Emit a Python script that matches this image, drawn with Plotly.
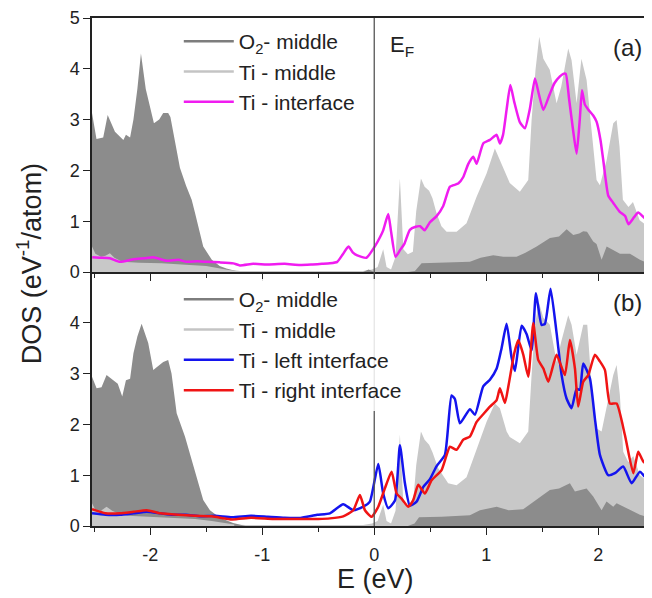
import numpy as np
import plotly.graph_objects as go

# ---------------- data: panel (a) ----------------
o2_a_x = [-2.52, -2.48, -2.42, -2.38, -2.315, -2.24, -2.217, -2.18, -2.15, -2.115, -2.083, -2.04, -1.967,
          -1.92, -1.884, -1.84, -1.82, -1.78, -1.735, -1.68, -1.63, -1.6, -1.527, -1.45, -1.38, -1.32, -1.2,
          -0.6, -0.1, -0.05, 0.0, 0.3, 0.363, 0.423, 0.6, 0.854, 0.95, 1.063, 1.152, 1.271, 1.35, 1.45,
          1.569, 1.65, 1.718, 1.777, 1.83, 1.866, 1.9, 1.955, 1.985, 2.03, 2.075, 2.134, 2.194, 2.283,
          2.372, 2.48]
o2_a_y = [3.13, 2.62, 2.65, 3.09, 2.76, 2.6, 2.7, 2.65, 3.0, 3.6, 4.3, 3.6, 2.93,
          3.0, 3.13, 3.13, 3.05, 2.6, 2.05, 1.7, 1.42, 1.16, 0.5, 0.24, 0.12, 0.07, 0.0,
          0.0, 0.0, 0.05, 0.0, 0.0, 0.02, 0.17, 0.18, 0.2, 0.28, 0.33, 0.3, 0.3, 0.38, 0.5,
          0.67, 0.7, 0.84, 0.73, 0.76, 0.8, 0.79, 0.6, 0.55, 0.24, 0.5, 0.43, 0.36, 0.36,
          0.24, 0.14]

ti_a_x = [-2.52, -2.49, -2.44, -2.40, -2.36, -2.32, -2.25, -2.1, -1.9, -1.7, -1.5, -1.4, -1.3, -1.2,
          -0.6, -0.1, -0.02, 0.03, 0.08, 0.11, 0.15, 0.19, 0.229, 0.26, 0.30, 0.345, 0.375, 0.417, 0.45,
          0.49, 0.52, 0.557, 0.6, 0.646, 0.735, 0.824, 0.914, 1.003, 1.077, 1.122, 1.182, 1.21, 1.3,
          1.375, 1.405, 1.44, 1.473, 1.51, 1.567, 1.628, 1.67, 1.732, 1.762, 1.807, 1.85, 1.896, 1.94,
          1.985, 2.015, 2.075, 2.134, 2.164, 2.19, 2.22, 2.27, 2.31, 2.37, 2.48]
ti_a_y = [0.5, 0.36, 0.3, 0.32, 0.37, 0.28, 0.2, 0.18, 0.17, 0.15, 0.12, 0.08, 0.04, 0.02,
          0.02, 0.02, 0.05, 0.1, 0.45, 0.1, 0.05, 0.3, 1.84, 0.45, 0.35, 0.4, 1.2, 1.84, 1.68,
          1.6, 1.45, 1.15, 0.9, 0.79, 0.79, 0.96, 1.48, 1.94, 2.43, 2.2, 1.88, 1.75, 1.58,
          1.81, 2.99, 3.98, 4.63, 4.2, 3.98, 3.32, 3.65, 4.40, 4.17, 3.32, 4.2, 3.78, 2.8,
          1.81, 1.71, 2.2, 2.93, 2.99, 2.47, 1.42, 1.28, 1.38, 1.02, 0.83]

tiint_a_x = [-2.518, -2.45, -2.36, -2.27, -2.15, -2.05, -1.972, -1.855, -1.75, -1.675, -1.58, -1.497,
             -1.38, -1.258, -1.2, -1.08, -0.96, -0.8, -0.664, -0.55, -0.467, -0.396, -0.33, -0.28, -0.23,
             -0.19, -0.157, -0.07, 0.004, 0.05, 0.08, 0.125, 0.15, 0.19, 0.23, 0.27, 0.318, 0.37, 0.41,
             0.45, 0.497, 0.557, 0.616, 0.676, 0.75, 0.795, 0.84, 0.884, 0.914, 0.973, 1.033, 1.093,
             1.122, 1.15, 1.182, 1.215, 1.25, 1.30, 1.345, 1.39, 1.435, 1.47, 1.51, 1.567, 1.61, 1.658,
             1.688, 1.71, 1.74, 1.775, 1.807, 1.835, 1.855, 1.88, 1.91, 1.955, 1.985, 2.02, 2.045, 2.09,
             2.134, 2.19, 2.24, 2.27, 2.32, 2.357, 2.42, 2.49]
tiint_a_y = [0.29, 0.28, 0.27, 0.2, 0.25, 0.27, 0.29, 0.22, 0.24, 0.2, 0.21, 0.2,
             0.19, 0.17, 0.13, 0.16, 0.15, 0.16, 0.14, 0.15, 0.16, 0.17, 0.2, 0.35, 0.5,
             0.38, 0.33, 0.28, 0.5, 0.68, 0.82, 1.14, 0.8, 0.3, 0.43, 0.56, 0.83, 0.89, 0.9,
             0.82, 0.98, 1.1, 1.3, 1.68, 1.74, 1.87, 2.13, 2.27, 2.13, 2.53, 2.6, 2.7,
             2.53, 2.7, 3.2, 3.68, 3.35, 2.95, 2.83, 3.22, 3.81, 3.5, 3.19, 3.5, 3.72, 3.85,
             3.9, 3.9, 3.4, 2.8, 2.33, 3.0, 3.58, 3.3, 3.2, 3.08, 2.96, 2.6, 2.2, 1.5,
             1.36, 1.19, 1.1, 0.94, 1.08, 1.17, 1.05, 0.99]

# ---------------- data: panel (b) ----------------
o2_b_x = [-2.52, -2.479, -2.435, -2.39, -2.33, -2.29, -2.25, -2.217, -2.18, -2.15, -2.115, -2.077, -2.018,
          -1.973, -1.884, -1.84, -1.81, -1.764, -1.69, -1.616, -1.527, -1.467, -1.378, -1.26, -1.15,
          0.3, 0.36, 0.40, 0.6, 0.854, 0.944, 1.093, 1.2, 1.33, 1.42, 1.568, 1.65, 1.747, 1.792, 1.896,
          1.955, 2.03, 2.074, 2.134, 2.164, 2.253, 2.372, 2.48]
o2_b_y = [2.94, 2.71, 2.73, 2.97, 2.87, 2.8, 2.55, 2.87, 2.9, 3.4, 3.73, 3.98, 3.6,
          3.07, 3.23, 3.27, 3.0, 2.22, 1.76, 1.17, 0.51, 0.31, 0.16, 0.06, 0.0,
          0.0, 0.05, 0.17, 0.18, 0.21, 0.31, 0.38, 0.31, 0.33, 0.48, 0.71, 0.74, 0.84, 0.68, 0.74,
          0.58, 0.31, 0.48, 0.38, 0.45, 0.35, 0.22, 0.15]

ti_b_x = [-2.52, -2.49, -2.44, -2.39, -2.34, -2.3, -2.2, -2.0, -1.8, -1.6, -1.45, -1.35, -1.25, -1.15,
          -0.6, -0.1, -0.02, 0.03, 0.08, 0.11, 0.15, 0.19, 0.229, 0.26, 0.30, 0.345, 0.375, 0.417, 0.45,
          0.49, 0.52, 0.57, 0.66, 0.735, 0.824, 0.914, 1.003, 1.077, 1.122, 1.182, 1.21, 1.3, 1.375,
          1.405, 1.435, 1.47, 1.51, 1.568, 1.628, 1.67, 1.732, 1.762, 1.807, 1.866, 1.902, 1.94, 1.985,
          2.03, 2.074, 2.134, 2.164, 2.193, 2.223, 2.268, 2.313, 2.372, 2.48]
ti_b_y = [0.45, 0.32, 0.3, 0.38, 0.3, 0.26, 0.2, 0.18, 0.17, 0.14, 0.1, 0.06, 0.03, 0.02,
          0.02, 0.02, 0.05, 0.1, 0.42, 0.1, 0.05, 0.3, 1.8, 0.45, 0.35, 0.4, 1.2, 1.86, 1.7,
          1.6, 1.45, 1.14, 0.84, 0.8, 0.96, 1.52, 2.05, 2.41, 2.32, 1.86, 1.75, 1.63, 1.86,
          2.97, 3.96, 4.4, 4.1, 3.96, 3.23, 3.63, 4.15, 3.96, 3.37, 3.96, 3.96, 2.78, 1.92,
          1.86, 2.32, 2.97, 3.17, 2.58, 1.46, 1.26, 1.38, 1.0, 0.81]

tileft_b_x = [-2.52, -2.4, -2.27, -2.15, -2.03, -1.91, -1.8, -1.68, -1.55, -1.42, -1.27, -1.1, -0.95,
              -0.8, -0.66, -0.51, -0.396, -0.277, -0.187, -0.098, -0.039, 0.036, 0.08, 0.125, 0.185,
              0.229, 0.274, 0.318, 0.378, 0.438, 0.497, 0.557, 0.631, 0.69, 0.72, 0.765, 0.854, 0.899,
              0.973, 1.033, 1.093, 1.137, 1.182, 1.226, 1.256, 1.316, 1.36, 1.405, 1.444, 1.494, 1.524,
              1.574, 1.628, 1.673, 1.717, 1.762, 1.807, 1.836, 1.866, 1.926, 1.97, 2.015, 2.089, 2.149,
              2.223, 2.298, 2.372, 2.432, 2.479]
tileft_b_y = [0.25, 0.22, 0.22, 0.25, 0.28, 0.25, 0.22, 0.22, 0.19, 0.2, 0.17, 0.2, 0.18,
              0.16, 0.16, 0.22, 0.25, 0.43, 0.31, 0.38, 0.48, 1.22, 0.64, 0.35, 0.5,
              1.59, 0.84, 0.4, 0.48, 0.77, 0.92, 1.18, 1.4, 2.57, 2.5, 2.02, 2.3, 2.19,
              2.75, 2.88, 3.1, 3.5, 3.98, 3.32, 3.05, 3.94, 3.78, 3.46, 4.58, 3.96, 3.98,
              4.67, 3.8, 2.97, 2.51, 2.32, 2.7, 2.68, 3.2, 2.9, 2.12, 1.4, 1.0, 1.04,
              1.17, 0.84, 1.07, 0.94, 1.07]

tiright_b_x = [-2.52, -2.4, -2.27, -2.15, -2.03, -1.91, -1.75, -1.6, -1.45, -1.27, -1.1, -0.9, -0.7,
               -0.5, -0.396, -0.277, -0.187, -0.128, -0.083, -0.024, 0.036, 0.095, 0.155, 0.2, 0.244,
               0.304, 0.348, 0.393, 0.452, 0.512, 0.601, 0.676, 0.735, 0.795, 0.854, 0.914, 0.973,
               1.033, 1.093, 1.122, 1.167, 1.2, 1.25, 1.286, 1.331, 1.375, 1.42, 1.464, 1.51, 1.554,
               1.628, 1.702, 1.747, 1.792, 1.821, 1.866, 1.911, 1.97, 2.015, 2.06, 2.104, 2.164,
               2.238, 2.313, 2.357, 2.402, 2.479]
tiright_b_y = [0.33, 0.25, 0.25, 0.28, 0.31, 0.25, 0.22, 0.2, 0.19, 0.13, 0.16, 0.14, 0.14,
               0.14, 0.15, 0.19, 0.31, 0.61, 0.31, 0.18, 0.38, 0.74, 1.07, 0.64, 0.54,
               0.38, 0.51, 0.81, 0.64, 0.9, 1.1, 1.56, 1.5, 1.7, 1.76, 2.05, 2.2,
               2.35, 2.48, 2.71, 2.42, 2.78, 3.4, 3.66, 3.37, 2.94, 3.99, 3.27, 3.1, 2.84,
               3.37, 2.97, 3.66, 3.1, 2.35, 2.84, 2.97, 3.37, 3.24, 3.07, 2.41, 2.41,
               1.79, 1.04, 1.46, 1.27, 1.14]

x_tickvals = [-2, -1, 0, 1, 2]
x_ticktext = ["-2", "-1", "0", "1", "2"]
y_tickvals_a = [0, 1, 2, 3, 4, 5]
y_tickvals_b = [0, 1, 2, 3, 4]

# ---------------- styles ----------------
DARK = "#8c8c8c"
LIGHT = "#c8c8c8"
DARK_LINE = "#7d7d7d"
LIGHT_LINE = "#c4c4c4"
MAGENTA = "#f01cf0"
BLUE = "#1414ee"
RED = "#f01414"
FONT = "Liberation Sans, Arial, sans-serif"

fig = go.Figure()


def add_panel(xa, ya, legend, o2x, o2y, tix, tiy):
    # Ti-middle fill, O2 fill on top, then Ti fill re-drawn where it lies under O2 (left region)
    fig.add_trace(go.Scatter(x=tix, y=tiy, mode="lines", fill="tozeroy", fillcolor=LIGHT,
                             line=dict(width=0, color=LIGHT), showlegend=False,
                             xaxis=xa, yaxis=ya, hoverinfo="skip"))
    fig.add_trace(go.Scatter(x=o2x, y=o2y, mode="lines", fill="tozeroy", fillcolor=DARK,
                             line=dict(width=0, color=DARK), showlegend=False,
                             xaxis=xa, yaxis=ya, hoverinfo="skip"))
    tx = np.array(tix)
    ty = np.array(tiy)
    m = tx <= -1.2
    fig.add_trace(go.Scatter(x=tx[m], y=ty[m], mode="lines", fill="tozeroy", fillcolor=LIGHT,
                             line=dict(width=0, color=LIGHT), showlegend=False,
                             xaxis=xa, yaxis=ya, hoverinfo="skip"))
    # legend keys for the fills
    fig.add_trace(go.Scatter(x=[None], y=[None], mode="lines", name="O<sub>2</sub>- middle",
                             line=dict(width=2.5, color=DARK_LINE), legend=legend,
                             xaxis=xa, yaxis=ya))
    fig.add_trace(go.Scatter(x=[None], y=[None], mode="lines", name="Ti - middle",
                             line=dict(width=2.5, color=LIGHT_LINE), legend=legend,
                             xaxis=xa, yaxis=ya))


add_panel("x", "y", "legend", o2_a_x, o2_a_y, ti_a_x, ti_a_y)
fig.add_trace(go.Scatter(x=tiint_a_x, y=tiint_a_y, mode="lines", name="Ti - interface",
                         line=dict(width=2.5, color=MAGENTA, shape="spline", smoothing=0.5),
                         legend="legend", xaxis="x", yaxis="y"))

add_panel("x2", "y2", "legend2", o2_b_x, o2_b_y, ti_b_x, ti_b_y)
fig.add_trace(go.Scatter(x=tileft_b_x, y=tileft_b_y, mode="lines", name="Ti - left interface",
                         line=dict(width=2.5, color=BLUE, shape="spline", smoothing=0.5),
                         legend="legend2", xaxis="x2", yaxis="y2"))
fig.add_trace(go.Scatter(x=tiright_b_x, y=tiright_b_y, mode="lines", name="Ti - right interface",
                         line=dict(width=2.5, color=RED, shape="spline", smoothing=0.5),
                         legend="legend2", xaxis="x2", yaxis="y2"))

xcommon = dict(range=[-2.52, 2.48], tickvals=x_tickvals, ticktext=x_ticktext, ticks="outside",
               ticklen=7, tickwidth=1.3, tickcolor="#222", showline=True, linecolor="#222",
               linewidth=1.5, showgrid=False, zeroline=False,
               minor=dict(dtick=0.5, tick0=0, ticks="outside", ticklen=4, tickwidth=1.3,
                          tickcolor="#222", showgrid=False),
               tickfont=dict(size=18, color="#222", family=FONT))
ycommon = dict(range=[0, 5], ticks="outside", ticklen=7, tickwidth=1.3, tickcolor="#222",
               showline=True, linecolor="#222", linewidth=1.5, mirror=False, showgrid=False,
               zeroline=False, tickfont=dict(size=18, color="#222", family=FONT))

legfont = dict(size=21, family=FONT, color="#222")
fig.update_layout(
    width=644, height=590,
    margin=dict(l=84, r=0, t=10, b=72),
    paper_bgcolor="white", plot_bgcolor="white",
    font=dict(family=FONT, color="#222"),
    xaxis=dict(**xcommon, anchor="y", showticklabels=False, mirror=True),
    yaxis=dict(**ycommon, domain=[0.5, 1], tickvals=y_tickvals_a, anchor="x"),
    xaxis2=dict(**xcommon, anchor="y2", showticklabels=True, mirror=False, ticklabelstandoff=5),
    yaxis2=dict(**ycommon, domain=[0, 0.5], tickvals=y_tickvals_b, anchor="x2"),
    legend=dict(x=0.155, y=0.994, xanchor="left", yanchor="top", bgcolor="rgba(255,255,255,0.85)",
                font=legfont, tracegroupgap=0, itemwidth=50),
    legend2=dict(x=0.155, y=0.486, xanchor="left", yanchor="top", bgcolor="rgba(255,255,255,0.85)",
                 font=legfont, tracegroupgap=0, itemwidth=50),
    showlegend=True,
)

# Fermi level lines
for ya in ["y", "y2"]:
    xa = "x" if ya == "y" else "x2"
    fig.add_shape(type="line", xref=xa, yref=ya + " domain", x0=0, x1=0, y0=0, y1=1,
                  line=dict(color="#555", width=1.3), layer="above")

fig.add_annotation(text="E<sub>F</sub>", xref="x", yref="paper", x=0.12, y=0.945,
                   xanchor="left", yanchor="middle", showarrow=False,
                   font=dict(size=22, family=FONT, color="#222"))
fig.add_annotation(text="(a)", xref="paper", yref="paper", x=0.957, y=0.941,
                   xanchor="center", yanchor="middle", showarrow=False,
                   font=dict(size=24, family=FONT, color="#222"))
fig.add_annotation(text="(b)", xref="paper", yref="paper", x=0.957, y=0.44,
                   xanchor="center", yanchor="middle", showarrow=False,
                   font=dict(size=24, family=FONT, color="#222"))
fig.add_annotation(text="DOS (eV<sup>-1</sup>/atom)", xref="paper", yref="paper", x=-0.113,
                   y=0.5167, xanchor="center", yanchor="middle", textangle=-90, showarrow=False,
                   font=dict(size=27, family=FONT, color="#222"))
fig.add_annotation(text="E (eV)", xref="paper", yref="paper", x=0.507, y=-0.104,
                   xanchor="center", yanchor="middle", showarrow=False,
                   font=dict(size=27, family=FONT, color="#222"))

fig.write_html("out.html")
